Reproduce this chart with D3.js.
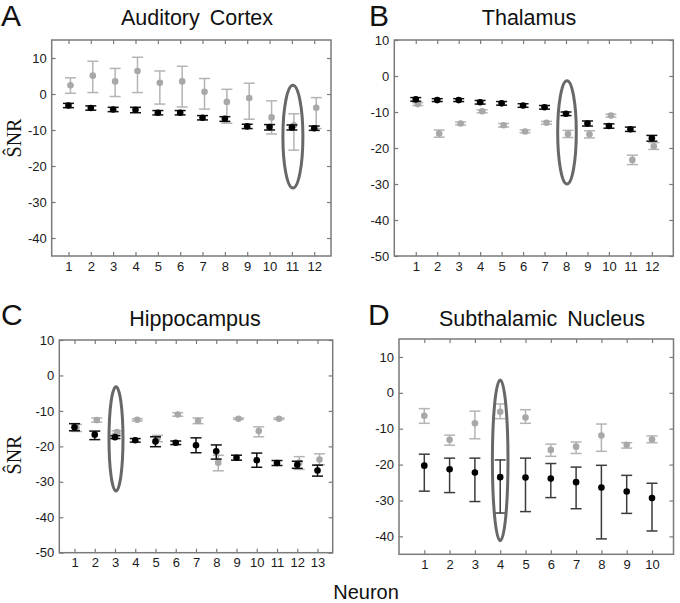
<!DOCTYPE html>
<html><head><meta charset="utf-8">
<script src="https://cdn.jsdelivr.net/npm/d3@7"></script>
<style>body{margin:0;background:#fff}svg{display:block}</style>
</head><body><svg id="c" width="680" height="603"></svg>
<script>
// ---------------- DATA ----------------
const panelLetters = ["A", "B", "C", "D"];
const panelTitles = ["Auditory Cortex", "Thalamus", "Hippocampus", "Subthalamic Nucleus"];
const xAxisLabel = "Neuron";
const yAxisLabel = "ŜNR";

const neuronsA = [1, 2, 3, 4, 5, 6, 7, 8, 9, 10, 11, 12];
const neuronsB = [1, 2, 3, 4, 5, 6, 7, 8, 9, 10, 11, 12];
const neuronsC = [1, 2, 3, 4, 5, 6, 7, 8, 9, 10, 11, 12, 13];
const neuronsD = [1, 2, 3, 4, 5, 6, 7, 8, 9, 10];

const yTicksA = [10, 0, -10, -20, -30, -40];
const yTicksB = [10, 0, -10, -20, -30, -40, -50];
const yTicksC = [10, 0, -10, -20, -30, -40, -50];
const yTicksD = [10, 0, -10, -20, -30, -40];

// Auditory cortex
const grayMeanA = [2.4, 5.1, 3.5, 6.4, 3.1, 3.5, 0.6, -2.2, -1.1, -6.5, -8.7, -3.8];
const grayLowA  = [0.2, 0.4, -0.7, 0.4, -2.8, -3.6, -4.2, -8.1, -7.0, -11.1, -15.6, -9.6];
const grayHighA = [4.5, 9.1, 7.1, 10.2, 6.4, 7.7, 4.3, 1.3, 3.0, -1.9, -5.5, -1.0];
const blackMeanA = [-3.2, -3.9, -4.3, -4.4, -5.2, -5.2, -6.6, -6.9, -9.0, -9.2, -9.3, -9.5];
const blackLowA  = [-3.8, -4.5, -4.9, -5.2, -5.8, -5.8, -7.2, -7.6, -9.6, -10.0, -10.0, -10.1];
const blackHighA = [-2.6, -3.3, -3.7, -3.7, -4.6, -4.6, -6.0, -6.3, -8.4, -8.5, -8.6, -8.9];

// Thalamus
const grayMeanB = [-7.8, -16.0, -13.2, -9.8, -13.7, -15.4, -13.0, -16.1, -16.2, -11.0, -23.3, -19.5];
const grayLowB  = [-8.2, -17.0, -13.6, -10.2, -14.2, -15.8, -13.4, -17.1, -17.2, -11.4, -24.6, -20.4];
const grayHighB = [-7.4, -15.0, -12.8, -9.4, -13.2, -15.0, -12.6, -15.1, -15.2, -10.6, -22.0, -18.5];
const blackMeanB = [-6.5, -6.7, -6.7, -7.3, -7.6, -8.2, -8.7, -10.5, -13.2, -13.9, -14.8, -17.3];
const blackLowB  = [-7.0, -7.1, -7.1, -7.8, -8.1, -8.7, -9.2, -11.0, -13.9, -14.5, -15.4, -18.1];
const blackHighB = [-6.0, -6.3, -6.3, -6.8, -7.1, -7.7, -8.2, -10.0, -12.5, -13.3, -14.2, -16.5];

// Hippocampus
const grayMeanC = [-14.8, -12.6, -16.0, -12.5, -17.8, -11.0, -12.8, -24.6, -12.2, -15.7, -12.2, -24.6, -23.7];
const grayLowC  = [-15.8, -13.2, -16.4, -12.8, -18.7, -11.5, -13.6, -26.9, -12.4, -17.3, -12.4, -26.5, -25.2];
const grayHighC = [-13.8, -12.0, -15.6, -12.2, -16.9, -10.5, -12.0, -22.5, -12.0, -14.5, -12.0, -22.9, -22.1];
const blackMeanC = [-14.6, -16.7, -17.4, -18.3, -18.6, -19.0, -19.7, -21.4, -23.2, -23.9, -24.7, -25.2, -26.8];
const blackLowC  = [-15.6, -18.1, -17.8, -18.8, -20.1, -19.5, -21.8, -23.6, -23.9, -25.9, -25.4, -26.2, -28.4];
const blackHighC = [-13.6, -15.7, -17.0, -17.8, -17.3, -18.5, -17.6, -19.6, -22.5, -21.9, -24.0, -24.2, -25.3];

// Subthalamic nucleus
const grayMeanD = [-6.4, -13.1, -8.5, -5.3, -6.9, -15.9, -15.0, -11.9, -14.5, -13.0];
const grayLowD  = [-8.5, -14.6, -12.8, -7.2, -8.5, -17.7, -16.9, -16.3, -15.4, -13.9];
const grayHighD = [-4.4, -11.8, -5.1, -3.1, -4.7, -14.3, -13.7, -8.7, -13.9, -12.0];
const blackMeanD = [-20.3, -21.3, -22.2, -23.5, -23.6, -23.9, -24.9, -26.4, -27.5, -29.3];
const blackLowD  = [-27.4, -27.8, -30.3, -33.5, -33.1, -29.2, -32.3, -40.7, -33.6, -38.5];
const blackHighD = [-17.1, -18.2, -18.2, -18.7, -18.2, -19.7, -20.7, -20.2, -23.0, -25.2];

// highlighted neuron (ellipse) per panel: neuron, top value, bottom value
const highlightNeuron = [11, 8, 3, 4];
const highlightTop = [2.4, -1.3, -3.2, 3.6];
const highlightBottom = [-26.1, -30.0, -32.6, -41.2];

// ---------------- LAYOUT ----------------
const layout = [
  {left: 51.7, right: 331, top: 40, bottom: 256, xDom: [0.25, 12.75], yDom: [-45, 15], grayDx: 2, rx: 10, titleX: 197, titleY: 25, letterX: 1, letterY: 26, ylabY: 138},
  {left: 394.3, right: 673.3, top: 40, bottom: 256, xDom: [0, 13], yDom: [-50, 10], grayDx: 2, rx: 9.3, titleX: 529, titleY: 25, letterX: 369, letterY: 26, ylabY: null},
  {left: 59.3, right: 332.7, top: 340, bottom: 552.7, xDom: [0.25, 13.75], yDom: [-50, 10], grayDx: 2, rx: 7, titleX: 195, titleY: 326, letterX: 1, letterY: 325, ylabY: 455},
  {left: 399, right: 673.5, top: 339, bottom: 554.3, xDom: [0, 10.85], yDom: [-45, 15], grayDx: 0, rx: 7.8, titleX: 542, titleY: 326, letterX: 368, letterY: 325, ylabY: null}
];

const panels = [
  {neurons: neuronsA, yTicks: yTicksA, gm: grayMeanA, gl: grayLowA, gh: grayHighA, bm: blackMeanA, bl: blackLowA, bh: blackHighA, bColor: "#111"},
  {neurons: neuronsB, yTicks: yTicksB, gm: grayMeanB, gl: grayLowB, gh: grayHighB, bm: blackMeanB, bl: blackLowB, bh: blackHighB, bColor: "#111"},
  {neurons: neuronsC, yTicks: yTicksC, gm: grayMeanC, gl: grayLowC, gh: grayHighC, bm: blackMeanC, bl: blackLowC, bh: blackHighC, bColor: "#111"},
  {neurons: neuronsD, yTicks: yTicksD, gm: grayMeanD, gl: grayLowD, gh: grayHighD, bm: blackMeanD, bl: blackLowD, bh: blackHighD, bColor: "#3c3c3c"}
];

const svg = d3.select("#c");
const sans = "Liberation Sans, Arial, sans-serif";
const axisGray = "#7a7a7a";
const grayBar = "#b4b4b4";
const grayDot = "#a8a8a8";
const capHalf = 5.5;
const fmt = d => String(d);

panels.forEach((p, i) => {
  const L = layout[i];
  const x = d3.scaleLinear().domain(L.xDom).range([L.left, L.right]);
  const y = d3.scaleLinear().domain(L.yDom).range([L.bottom, L.top]);
  const g = svg.append("g");

  // axes box
  g.append("rect").attr("x", L.left).attr("y", L.top)
    .attr("width", L.right - L.left).attr("height", L.bottom - L.top)
    .attr("fill", "none").attr("stroke", axisGray).attr("stroke-width", 1.5);

  const styleAxis = sel => {
    sel.select(".domain").remove();
    sel.selectAll(".tick line").attr("stroke", axisGray).attr("stroke-width", 1.2);
    sel.selectAll(".tick text").attr("font-family", sans).attr("font-size", 13).attr("fill", "#1a1a1a");
  };
  g.append("g").attr("transform", `translate(0,${L.bottom})`)
    .call(d3.axisBottom(x).tickValues(p.neurons).tickSizeInner(-4).tickSizeOuter(0).tickPadding(5.5).tickFormat(fmt))
    .call(styleAxis);
  g.append("g").attr("transform", `translate(0,${L.top})`)
    .call(d3.axisTop(x).tickValues(p.neurons).tickSizeInner(-4).tickSizeOuter(0).tickFormat(""))
    .call(styleAxis);
  g.append("g").attr("transform", `translate(${L.left},0)`)
    .call(d3.axisLeft(y).tickValues(p.yTicks).tickSizeInner(-4).tickSizeOuter(0).tickPadding(5).tickFormat(fmt))
    .call(styleAxis);
  g.append("g").attr("transform", `translate(${L.right},0)`)
    .call(d3.axisRight(y).tickValues(p.yTicks).tickSizeInner(-4).tickSizeOuter(0).tickFormat(""))
    .call(styleAxis);

  // error bar drawer
  const drawSeries = (mean, low, high, dx, barColor, dotColor) => {
    const s = g.append("g");
    p.neurons.forEach((n, k) => {
      const cx = x(n) + dx;
      s.append("line").attr("x1", cx).attr("x2", cx).attr("y1", y(low[k])).attr("y2", y(high[k]))
        .attr("stroke", barColor).attr("stroke-width", 1.5);
      [low[k], high[k]].forEach(v => {
        s.append("line").attr("x1", cx - capHalf).attr("x2", cx + capHalf).attr("y1", y(v)).attr("y2", y(v))
          .attr("stroke", barColor).attr("stroke-width", 1.5);
      });
      s.append("circle").attr("cx", cx).attr("cy", y(mean[k])).attr("r", 3.3).attr("fill", dotColor);
    });
  };
  drawSeries(p.gm, p.gl, p.gh, L.grayDx, grayBar, grayDot);
  drawSeries(p.bm, p.bl, p.bh, 0, p.bColor, "#000");

  // highlight ellipse
  const yTop = y(highlightTop[i]), yBot = y(highlightBottom[i]);
  g.append("ellipse").attr("cx", x(highlightNeuron[i]) + L.grayDx / 2).attr("cy", (yTop + yBot) / 2)
    .attr("rx", L.rx).attr("ry", (yBot - yTop) / 2)
    .attr("fill", "none").attr("stroke", "#686868").attr("stroke-width", 3);

  // title & letter
  svg.append("text").attr("x", L.titleX).attr("y", L.titleY).attr("text-anchor", "middle")
    .attr("font-family", sans).attr("font-size", 21.5).attr("fill", "#111").attr("word-spacing", 4).text(panelTitles[i]);
  svg.append("text").attr("x", L.letterX).attr("y", L.letterY)
    .attr("font-family", sans).attr("font-size", 30).attr("fill", "#111").text(panelLetters[i]);

  if (L.ylabY !== null) {
    svg.append("text").attr("transform", `translate(21,${L.ylabY}) rotate(-90)`).attr("text-anchor", "middle")
      .attr("font-family", "Liberation Serif, Times New Roman, serif").attr("font-size", 20).attr("fill", "#111")
      .text(yAxisLabel);
  }
});

svg.append("text").attr("x", 366).attr("y", 599).attr("text-anchor", "middle")
  .attr("font-family", sans).attr("font-size", 20).attr("fill", "#111").text(xAxisLabel);
</script>
</body></html>
